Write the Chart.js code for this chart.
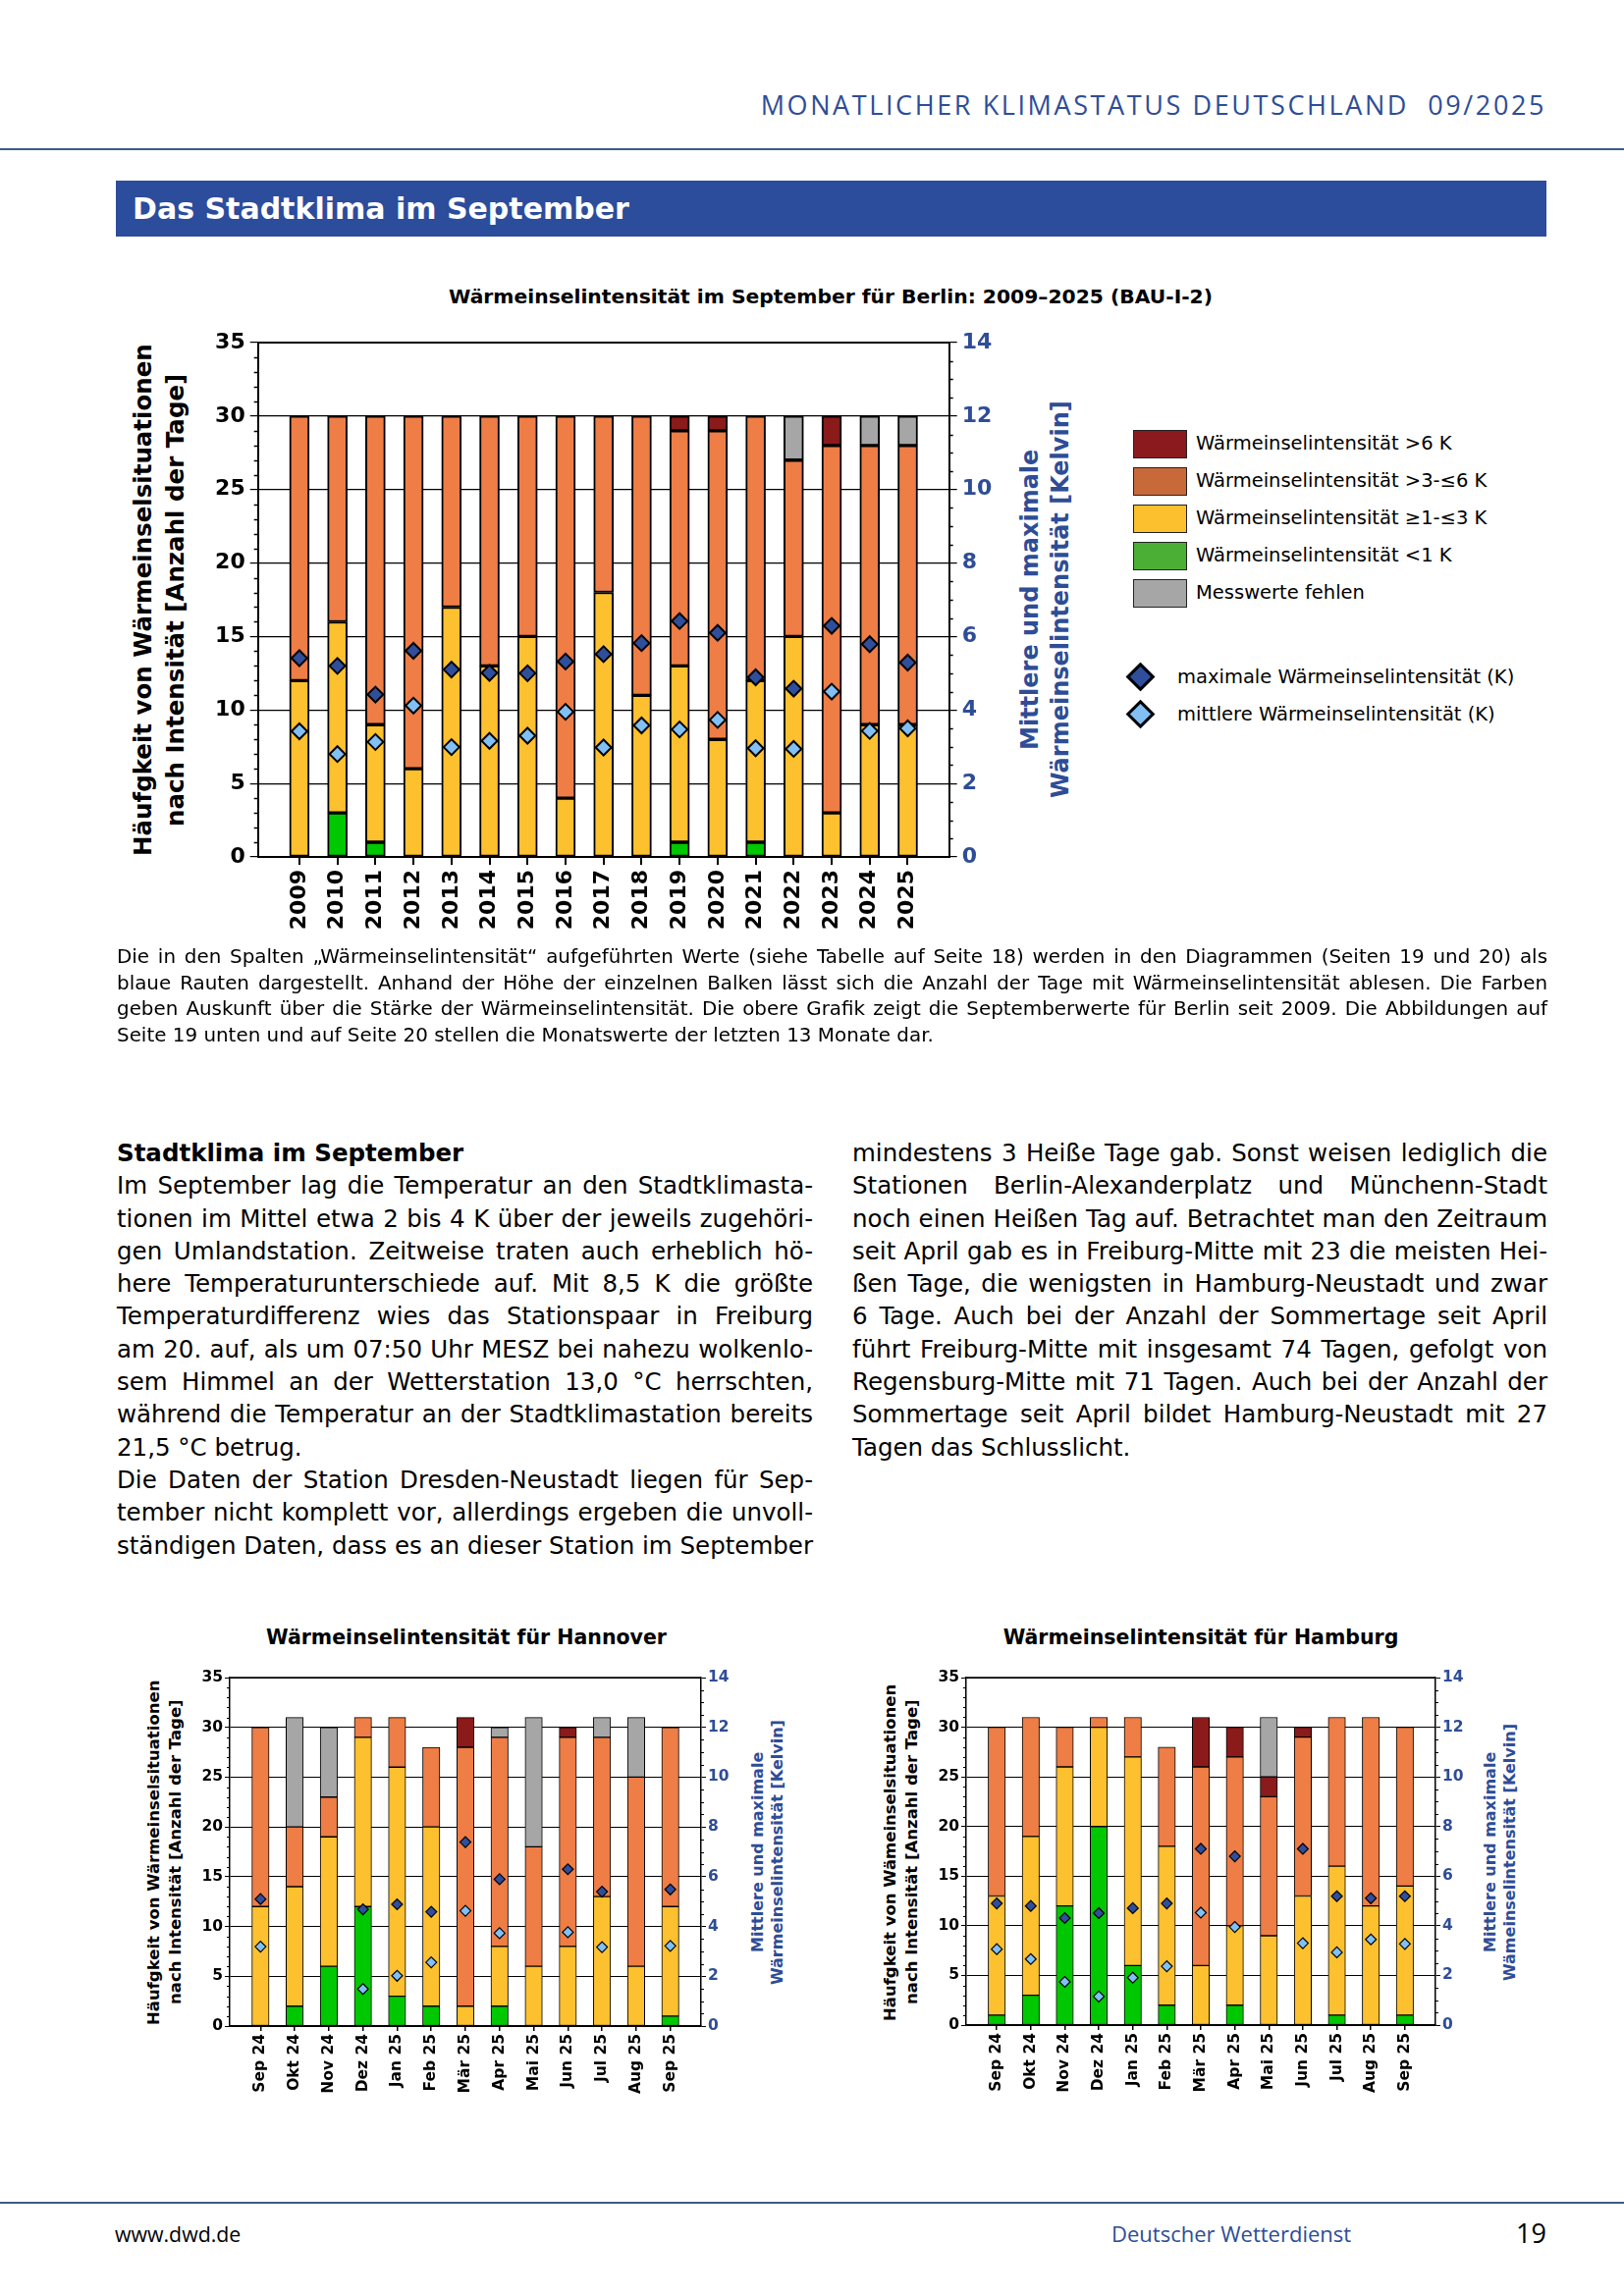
<!DOCTYPE html>
<html lang="de">
<head>
<meta charset="UTF-8">
<title>Das Stadtklima im September</title>
<script src="https://cdn.jsdelivr.net/npm/chart.js"></script>
<style>
    body {
        margin: 0;
        width: 1654px;
        height: 2339px;
        position: relative;
        overflow: hidden;
        background: #fff;
        font-family: 'DejaVu Sans', sans-serif;
        color: #000;
    }
    .abs { position: absolute; }
    canvas { position: absolute; }
    .linie { position: absolute; left: 0; width: 1654px; height: 2px; background: #3d5a8a; }
    .j { text-align: justify; text-align-last: justify; }
    .vt {
        position: absolute;
        writing-mode: vertical-rl;
        transform: rotate(180deg);
        text-align: center;
        font-weight: bold;
        white-space: nowrap;
    }
    .lg-box { position: absolute; left: 1154px; width: 53px; height: 27px; border: 1.5px solid #222; }
    .lg-txt { position: absolute; left: 1218px; font-size: 19.5px; line-height: 30px; }
    .lg-raute { position: absolute; width: 15px; height: 15px; border: 3px solid #000; transform: rotate(45deg); }
</style>
</head>
<body>

<div class="abs" style="right:79px; top:88px; font-family:'Open Sans', sans-serif; font-size:27px; letter-spacing:2.6px; color:#2e4d96;">MONATLICHER KLIMASTATUS DEUTSCHLAND&nbsp; 09/2025</div>
<div class="linie" style="top:151px;"></div>

<div class="abs" style="left:118px; top:184px; width:1440px; height:57px; padding-left:17px; background:#2c4c9c; color:#fff; font-weight:bold; font-size:30px; line-height:57px;">Das Stadtklima im September</div>

<!-- Berlin -->
<div class="abs" style="left:346px; top:290px; width:1000px; text-align:center; font-weight:bold; font-size:20.3px;">Wärmeinselintensität im September für Berlin: 2009–2025 (BAU-I-2)</div>
<div class="vt" style="left:129px; top:311px; width:66px; height:600px; font-size:24.5px; line-height:33px;">Häufgkeit von Wärmeinselsituationen<br>nach Intensität [Anzahl der Tage]</div>
<div class="vt" style="left:1034px; top:311px; width:62px; height:600px; font-size:24px; line-height:31px; color:#2e4d96;">Mittlere und maximale<br>Wärmeinselintensität [Kelvin]</div>
<canvas id="berlin" width="1000" height="680" style="left:100px; top:300px;"></canvas>

<div class="lg-box" style="top:438px; background:#8b1a1e;"></div>
<div class="lg-txt" style="top:437px;">Wärmeinselintensität &gt;6 K</div>
<div class="lg-box" style="top:476px; background:#c8693a;"></div>
<div class="lg-txt" style="top:475px;">Wärmeinselintensität &gt;3-≤6 K</div>
<div class="lg-box" style="top:514px; background:#fcc02e;"></div>
<div class="lg-txt" style="top:513px;">Wärmeinselintensität ≥1-≤3 K</div>
<div class="lg-box" style="top:552px; background:#4caf35;"></div>
<div class="lg-txt" style="top:551px;">Wärmeinselintensität &lt;1 K</div>
<div class="lg-box" style="top:590px; background:#a6a6a6;"></div>
<div class="lg-txt" style="top:589px;">Messwerte fehlen</div>
<div class="lg-raute" style="left:1151px; top:679px; background:#2f4f9c;"></div>
<div class="lg-txt" style="left:1199px; top:675px;">maximale Wärmeinselintensität (K)</div>
<div class="lg-raute" style="left:1151px; top:717px; background:#80c0f5;"></div>
<div class="lg-txt" style="left:1199px; top:713px;">mittlere Wärmeinselintensität (K)</div>

<div class="abs" style="left:119px; top:962px; width:1457px; font-size:19.9px; line-height:26.7px;">
    <div class="j">Die in den Spalten „Wärmeinselintensität“ aufgeführten Werte (siehe Tabelle auf Seite 18) werden in den Diagrammen (Seiten 19 und 20) als</div>
    <div class="j">blaue Rauten dargestellt. Anhand der Höhe der einzelnen Balken lässt sich die Anzahl der Tage mit Wärmeinselintensität ablesen. Die Farben</div>
    <div class="j">geben Auskunft über die Stärke der Wärmeinselintensität. Die obere Grafik zeigt die Septemberwerte für Berlin seit 2009. Die Abbildungen auf</div>
    <div>Seite 19 unten und auf Seite 20 stellen die Monatswerte der letzten 13 Monate dar.</div>
</div>

<div class="abs" style="left:119px; top:1158px; width:709px; font-size:24.5px; line-height:33.3px;">
    <div style="font-weight:bold;">Stadtklima im September</div>
    <div class="j">Im September lag die Temperatur an den Stadtklimasta-</div>
    <div class="j">tionen im Mittel etwa 2 bis 4 K über der jeweils zugehöri-</div>
    <div class="j">gen Umlandstation. Zeitweise traten auch erheblich hö-</div>
    <div class="j">here Temperaturunterschiede auf. Mit 8,5 K die größte</div>
    <div class="j">Temperaturdifferenz wies das Stationspaar in Freiburg</div>
    <div class="j">am 20. auf, als um 07:50 Uhr MESZ bei nahezu wolkenlo-</div>
    <div class="j">sem Himmel an der Wetterstation 13,0 °C herrschten,</div>
    <div class="j">während die Temperatur an der Stadtklimastation bereits</div>
    <div>21,5 °C betrug.</div>
    <div class="j">Die Daten der Station Dresden-Neustadt liegen für Sep-</div>
    <div class="j">tember nicht komplett vor, allerdings ergeben die unvoll-</div>
    <div class="j">ständigen Daten, dass es an dieser Station im September</div>
</div>
<div class="abs" style="left:868px; top:1158px; width:708px; font-size:24.5px; line-height:33.3px;">
    <div class="j">mindestens 3 Heiße Tage gab. Sonst weisen lediglich die</div>
    <div class="j">Stationen Berlin-Alexanderplatz und Münchenn-Stadt</div>
    <div class="j">noch einen Heißen Tag auf. Betrachtet man den Zeitraum</div>
    <div class="j">seit April gab es in Freiburg-Mitte mit 23 die meisten Hei-</div>
    <div class="j">ßen Tage, die wenigsten in Hamburg-Neustadt und zwar</div>
    <div class="j">6 Tage. Auch bei der Anzahl der Sommertage seit April</div>
    <div class="j">führt Freiburg-Mitte mit insgesamt 74 Tagen, gefolgt von</div>
    <div class="j">Regensburg-Mitte mit 71 Tagen. Auch bei der Anzahl der</div>
    <div class="j">Sommertage seit April bildet Hamburg-Neustadt mit 27</div>
    <div>Tagen das Schlusslicht.</div>
</div>

<!-- Hannover -->
<div class="abs" style="left:175px; top:1656px; width:600px; text-align:center; font-weight:bold; font-size:20.5px;">Wärmeinselintensität für Hannover</div>
<div class="vt" style="left:146px; top:1687px; width:44px; height:400px; font-size:16.5px; line-height:22px;">Häufgkeit von Wärmeinselsituationen<br>nach Intensität [Anzahl der Tage]</div>
<div class="vt" style="left:762px; top:1687px; width:40px; height:400px; font-size:16px; line-height:20px; color:#2e4d96;">Mittlere und maximale<br>Wärmeinselintensität [Kelvin]</div>
<canvas id="hannover" width="640" height="460" style="left:150px; top:1690px;"></canvas>

<!-- Hamburg -->
<div class="abs" style="left:923px; top:1656px; width:600px; text-align:center; font-weight:bold; font-size:20.5px;">Wärmeinselintensität für Hamburg</div>
<div class="vt" style="left:896px; top:1687px; width:44px; height:400px; font-size:16.5px; line-height:22px;">Häufgkeit von Wämeinselsituationen<br>nach Intensität [Anzahl der Tage]</div>
<div class="vt" style="left:1508px; top:1687px; width:40px; height:400px; font-size:16px; line-height:20px; color:#2e4d96;">Mittlere und maximale<br>Wämeinselintensität [Kelvin]</div>
<canvas id="hamburg" width="640" height="460" style="left:900px; top:1690px;"></canvas>

<div class="linie" style="top:2243px;"></div>
<div class="abs" style="left:117px; top:2261px; font-family:'Open Sans', sans-serif; font-size:21.3px;">www.dwd.de</div>
<div class="abs" style="left:1132px; top:2260px; font-family:'Open Sans', sans-serif; font-size:22px; color:#2e4d96;">Deutscher Wetterdienst</div>
<div class="abs" style="right:79px; top:2256px; font-family:'Open Sans', sans-serif; font-size:27px;">19</div>

<script>
    // Berlin, September 2009-2025 (Anzahl Tage je Klasse, Intensität in K)
    const jahre = ['2009', '2010', '2011', '2012', '2013', '2014', '2015', '2016', '2017',
                   '2018', '2019', '2020', '2021', '2022', '2023', '2024', '2025'];
    const berlinUnter1   = [0, 3, 1, 0, 0, 0, 0, 0, 0, 0, 1, 0, 1, 0, 0, 0, 0];
    const berlin1bis3    = [12, 13, 8, 6, 17, 13, 15, 4, 18, 11, 12, 8, 11, 15, 3, 9, 9];
    const berlin3bis6    = [18, 14, 21, 24, 13, 17, 15, 26, 12, 19, 16, 21, 18, 12, 25, 19, 19];
    const berlinUeber6   = [0, 0, 0, 0, 0, 0, 0, 0, 0, 0, 1, 1, 0, 0, 2, 0, 0];
    const berlinFehlt    = [0, 0, 0, 0, 0, 0, 0, 0, 0, 0, 0, 0, 0, 3, 0, 2, 2];
    const berlinMax      = [5.41, 5.2, 4.42, 5.61, 5.1, 5.01, 5.0, 5.32, 5.52, 5.82, 6.42, 6.1, 4.89, 4.58, 6.29, 5.79, 5.29];
    const berlinMittel   = [3.42, 2.8, 3.13, 4.12, 2.99, 3.16, 3.3, 3.95, 2.98, 3.58, 3.47, 3.73, 2.96, 2.94, 4.5, 3.43, 3.5];

    // letzte 13 Monate
    const monate = ['Sep 24', 'Okt 24', 'Nov 24', 'Dez 24', 'Jan 25', 'Feb 25', 'Mär 25',
                    'Apr 25', 'Mai 25', 'Jun 25', 'Jul 25', 'Aug 25', 'Sep 25'];

    const hannoverUnter1 = [0, 2, 6, 12, 3, 2, 0, 2, 0, 0, 0, 0, 1];
    const hannover1bis3  = [12, 12, 13, 17, 23, 18, 2, 6, 6, 8, 13, 6, 11];
    const hannover3bis6  = [18, 6, 4, 2, 5, 8, 26, 21, 12, 21, 16, 19, 18];
    const hannoverUeber6 = [0, 0, 0, 0, 0, 0, 3, 0, 0, 1, 0, 0, 0];
    const hannoverFehlt  = [0, 11, 7, 0, 0, 0, 0, 1, 13, 0, 2, 6, 0];
    const hannoverMax    = [5.1, null, null, 4.69, 4.89, 4.59, 7.39, 5.9, null, 6.3, 5.4, null, 5.49];
    const hannoverMittel = [3.19, null, null, 1.49, 2.02, 2.56, 4.63, 3.73, null, 3.77, 3.17, null, 3.22];

    const hamburgUnter1  = [1, 3, 12, 20, 6, 2, 0, 2, 0, 0, 1, 0, 1];
    const hamburg1bis3   = [12, 16, 14, 10, 21, 16, 6, 8, 9, 13, 15, 12, 13];
    const hamburg3bis6   = [17, 12, 4, 1, 4, 10, 20, 17, 14, 16, 15, 19, 16];
    const hamburgUeber6  = [0, 0, 0, 0, 0, 0, 5, 3, 2, 1, 0, 0, 0];
    const hamburgFehlt   = [0, 0, 0, 0, 0, 0, 0, 0, 6, 0, 0, 0, 0];
    const hamburgMax     = [4.9, 4.8, 4.31, 4.51, 4.71, 4.9, 7.1, 6.8, null, 7.1, 5.19, 5.11, 5.19];
    const hamburgMittel  = [3.06, 2.66, 1.74, 1.15, 1.91, 2.37, 4.53, 3.95, null, 3.3, 2.93, 3.45, 3.27];

    const tickTage = [0, 5, 10, 15, 20, 25, 30, 35];
    const tickKelvin = [0, 2, 4, 6, 8, 10, 12, 14];

    const farben = {
        unter1: '#00c800',
        von1bis3: '#fdc02f',
        von3bis6: '#ee7d46',
        ueber6: '#8b1a1a',
        fehlt: '#a6a6a6',
        max: '#2f4f9c',
        mittel: '#80c0f5'
    };
    const blau = '#2e4d96';

    // kleine Striche zwischen den Haupt-Ticks + obere Rahmenlinie
    const nebenStriche = {
        id: 'nebenStriche',
        afterDraw(chart, args, o) {
            const ctx = chart.ctx;
            const a = chart.chartArea;
            const y = chart.scales.y;
            const y2 = chart.scales.y2;
            ctx.save();
            ctx.strokeStyle = '#000';
            ctx.lineWidth = o.breite;
            ctx.beginPath();
            for (let v = 1; v < 35; v++) {
                if (v % 5 === 0) continue;
                const p = Math.round(y.getPixelForValue(v)) + 0.5;
                ctx.moveTo(a.left - o.laenge, p);
                ctx.lineTo(a.left, p);
            }
            for (let v = 0.5; v < 14; v += 0.5) {
                if (v % 2 === 0) continue;
                const p = Math.round(y2.getPixelForValue(v)) + 0.5;
                ctx.moveTo(a.right, p);
                ctx.lineTo(a.right + o.laenge, p);
            }
            ctx.stroke();
            ctx.lineWidth = o.rahmen;
            ctx.beginPath();
            ctx.moveTo(a.left, a.top);
            ctx.lineTo(a.right, a.top);
            ctx.stroke();
            ctx.restore();
        }
    };

    function zeichne(id, labels, r, c) {
        const punkte = werte => werte.map((v, i) => ({ x: i, y: v }));
        const klassen = [
            ['Wärmeinselintensität <1 K', r.unter1, farben.unter1],
            ['Wärmeinselintensität ≥1-≤3 K', r.von1bis3, farben.von1bis3],
            ['Wärmeinselintensität >3-≤6 K', r.von3bis6, farben.von3bis6],
            ['Wärmeinselintensität >6 K', r.ueber6, farben.ueber6],
            ['Messwerte fehlen', r.fehlt, farben.fehlt]
        ];
        const balken = klassen.map(k => ({
            label: k[0],
            data: punkte(k[1]),
            backgroundColor: k[2],
            borderColor: '#000',
            borderWidth: c.rand,
            borderSkipped: false,
            barThickness: c.balken,
            yAxisID: 'y',
            order: 1
        }));
        const raute = (label, werte, farbe) => ({
            type: 'line',
            label: label,
            data: punkte(werte),
            yAxisID: 'y2',
            showLine: false,
            pointStyle: 'rectRot',
            pointRadius: c.raute,
            pointBackgroundColor: farbe,
            pointBorderColor: '#000',
            pointBorderWidth: c.rautenRand,
            order: 0
        });
        const schrift = { family: 'DejaVu Sans', weight: 'bold', size: c.schrift };

        new Chart(document.getElementById(id), {
            type: 'bar',
            data: {
                datasets: [
                    ...balken,
                    raute('maximale Wärmeinselintensität (K)', r.max, farben.max),
                    raute('mittlere Wärmeinselintensität (K)', r.mittel, farben.mittel)
                ]
            },
            options: {
                responsive: false,
                animation: false,
                layout: { padding: { top: c.oben, left: 0, right: 0, bottom: 0 } },
                plugins: {
                    legend: { display: false },
                    tooltip: { enabled: false },
                    nebenStriche: { laenge: c.neben, breite: c.strich, rahmen: c.achse }
                },
                scales: {
                    x: {
                        type: 'linear',
                        min: -c.rand_x,
                        max: labels.length - 1 + c.rand_x,
                        offset: false,
                        stacked: true,
                        afterBuildTicks: s => { s.ticks = labels.map((_, i) => ({ value: i })); },
                        afterFit: s => { s.height = c.xHoehe; },
                        ticks: {
                            autoSkip: false,
                            minRotation: 90,
                            maxRotation: 90,
                            padding: c.xAbstand,
                            color: '#000',
                            font: schrift,
                            callback: (v, i) => labels[i]
                        },
                        grid: { offset: false, drawOnChartArea: false, tickLength: c.tick, color: '#000', lineWidth: c.achse },
                        border: { display: true, color: '#000', width: c.achse }
                    },
                    y: {
                        position: 'left',
                        min: 0,
                        max: 35,
                        stacked: true,
                        afterBuildTicks: s => { s.ticks = tickTage.map(v => ({ value: v })); },
                        afterFit: s => { s.width = c.links; },
                        ticks: { padding: c.yAbstand, color: '#000', font: schrift },
                        grid: { color: '#000', lineWidth: c.gitter, tickLength: c.tick },
                        border: { display: true, color: '#000', width: c.achse }
                    },
                    y2: {
                        position: 'right',
                        min: 0,
                        max: 14,
                        stacked: false,
                        afterBuildTicks: s => { s.ticks = tickKelvin.map(v => ({ value: v })); },
                        afterFit: s => { s.width = c.rechts; },
                        ticks: { padding: c.yAbstand, color: blau, font: schrift },
                        grid: { drawOnChartArea: false, color: '#000', lineWidth: c.gitter, tickLength: c.tick },
                        border: { display: true, color: '#000', width: c.achse }
                    }
                }
            },
            plugins: [nebenStriche]
        });
    }

    zeichne('berlin', jahre, {
        unter1: berlinUnter1, von1bis3: berlin1bis3, von3bis6: berlin3bis6,
        ueber6: berlinUeber6, fehlt: berlinFehlt, max: berlinMax, mittel: berlinMittel
    }, {
        oben: 49, links: 162.7, rechts: 133.3, xHoehe: 107, rand_x: 1.09,
        balken: 20, rand: 2, raute: 8, rautenRand: 2, schrift: 22,
        tick: 8, neben: 4, strich: 1.5, achse: 2, gitter: 1.2, xAbstand: 5, yAbstand: 5
    });

    zeichne('hannover', monate, {
        unter1: hannoverUnter1, von1bis3: hannover1bis3, von3bis6: hannover3bis6,
        ueber6: hannoverUeber6, fehlt: hannoverFehlt, max: hannoverMax, mittel: hannoverMittel
    }, {
        oben: 19, links: 84, rechts: 76, xHoehe: 86, rand_x: 0.9,
        balken: 17.5, rand: 1, raute: 5.5, rautenRand: 1.2, schrift: 15.5,
        tick: 5, neben: 3, strich: 1, achse: 1.5, gitter: 1, xAbstand: 3, yAbstand: 2
    });

    zeichne('hamburg', monate, {
        unter1: hamburgUnter1, von1bis3: hamburg1bis3, von3bis6: hamburg3bis6,
        ueber6: hamburgUeber6, fehlt: hamburgFehlt, max: hamburgMax, mittel: hamburgMittel
    }, {
        oben: 19, links: 84, rechts: 78, xHoehe: 87, rand_x: 0.9,
        balken: 17.5, rand: 1, raute: 5.5, rautenRand: 1.2, schrift: 15.5,
        tick: 5, neben: 3, strich: 1, achse: 1.5, gitter: 1, xAbstand: 3, yAbstand: 2
    });
</script>
</body>
</html>
